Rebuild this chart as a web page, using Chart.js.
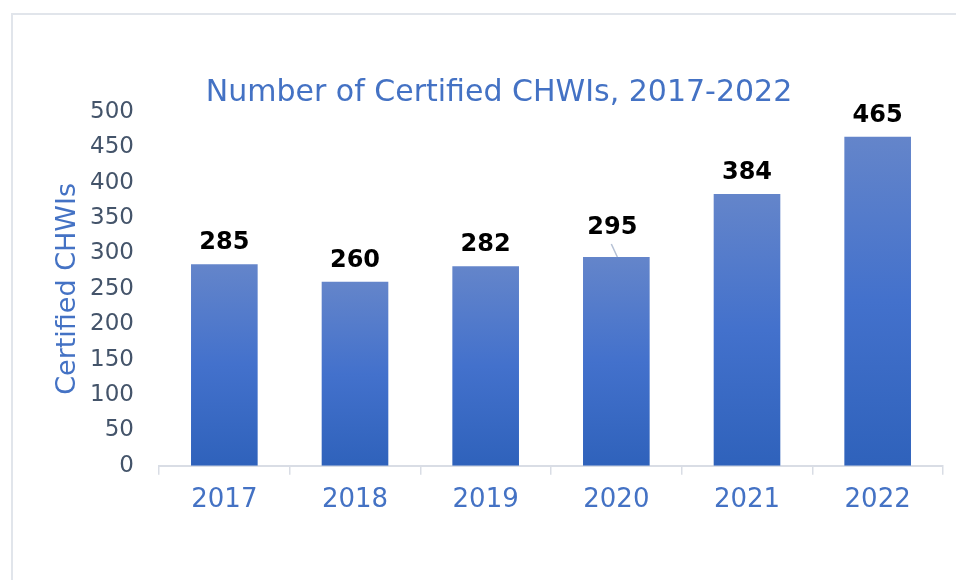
<!DOCTYPE html>
<html>
<head>
<meta charset="utf-8">
<script src="https://cdn.jsdelivr.net/npm/chart.js@4"></script>
<style>
  html, body { margin: 0; padding: 0; background: #fff; }
  #wrap { position: relative; width: 956px; height: 580px; overflow: hidden; }
  #frame { position: absolute; left: 11px; top: 13px; width: 1000px; height: 1000px;
           border-left: 2px solid #e1e5eb; border-top: 2px solid #e1e5eb; }
  canvas { position: absolute; left: 0; top: 0; }
</style>
</head>
<body>
<div id="wrap">
  <div id="frame"></div>
  <canvas id="chwiChart" width="956" height="580"></canvas>
</div>
<script>
// Chart data
const years = ['2017', '2018', '2019', '2020', '2021', '2022'];
const certifiedCounts = [285, 260, 282, 295, 384, 465];
const yTicks = [0, 50, 100, 150, 200, 250, 300, 350, 400, 450, 500];

const titleText = 'Number of Certified CHWIs, 2017-2022';
const blue = '#4472c4';
const fontFamily = '"DejaVu Sans", Verdana, sans-serif';

// Gradient fill per bar: lighter at top, darker at the base
function barGradient(context) {
    const chart = context.chart;
    const yScale = chart.scales.y;
    if (!yScale || !chart.chartArea) return '#4371cc';
    const value = context.raw || 0;
    const top = yScale.getPixelForValue(value);
    const bottom = yScale.getPixelForValue(0);
    if (!isFinite(top) || !isFinite(bottom) || top === bottom) return '#4371cc';
    const g = chart.ctx.createLinearGradient(0, top, 0, bottom);
    g.addColorStop(0, '#6485ca');
    g.addColorStop(0.5, '#4371cc');
    g.addColorStop(1, '#2f62bb');
    return g;
}

// Title and value labels drawn on top of the chart
const labelPlugin = {
    id: 'labelPlugin',
    afterDatasetsDraw(chart) {
        const ctx = chart.ctx;
        ctx.save();
        ctx.fillStyle = blue;
        ctx.font = '30px ' + fontFamily;
        ctx.textAlign = 'center';
        ctx.textBaseline = 'middle';
        ctx.fillText(titleText, 499, 93);

        const meta = chart.getDatasetMeta(0);
        ctx.font = 'bold 24px ' + fontFamily;
        ctx.fillStyle = '#000';
        meta.data.forEach((bar, i) => {
            let x = bar.x;
            let y = bar.y - 21;
            if (years[i] === '2020') {
                // label moved up with a leader line
                x = bar.x - 4;
                y = bar.y - 29;
                ctx.strokeStyle = '#b4c0d4';
                ctx.lineWidth = 1.5;
                ctx.beginPath();
                ctx.moveTo(bar.x - 5, y + 16);
                ctx.lineTo(bar.x + 1, bar.y);
                ctx.stroke();
            }
            ctx.fillText(String(certifiedCounts[i]), x, y);
        });
        ctx.restore();
    }
};

const ctx = document.getElementById('chwiChart').getContext('2d');

new Chart(ctx, {
    type: 'bar',
    data: {
        labels: years,
        datasets: [{
            label: 'Certified CHWIs',
            data: certifiedCounts,
            backgroundColor: barGradient,
            borderWidth: 0,
            categoryPercentage: 1,
            barPercentage: 0.51
        }]
    },
    options: {
        responsive: false,
        animation: false,
        layout: {
            padding: { left: 44, right: 13, top: 112, bottom: 54 }
        },
        plugins: {
            legend: { display: false },
            title: { display: false },
            tooltip: { enabled: false }
        },
        scales: {
            x: {
                grid: {
                    display: true,
                    drawOnChartArea: false,
                    drawTicks: true,
                    tickLength: 9,
                    color: '#d9dde5',
                    lineWidth: 1.5
                },
                border: { display: true, color: '#d9dde5', width: 2 },
                ticks: {
                    color: blue,
                    padding: 10,
                    font: { family: fontFamily, size: 26 }
                }
            },
            y: {
                min: 0,
                max: 500,
                afterBuildTicks(scale) {
                    scale.ticks = yTicks.map(v => ({ value: v }));
                },
                afterFit(scale) {
                    scale.width = 115;
                },
                grid: { display: false, drawTicks: false },
                border: { display: false },
                ticks: {
                    color: '#44546a',
                    padding: 25,
                    font: { family: fontFamily, size: 23 }
                },
                title: {
                    display: true,
                    text: 'Certified CHWIs',
                    color: blue,
                    padding: { top: 8, bottom: 0 },
                    font: { family: fontFamily, size: 27 }
                }
            }
        }
    },
    plugins: [labelPlugin]
});
</script>
</body>
</html>
